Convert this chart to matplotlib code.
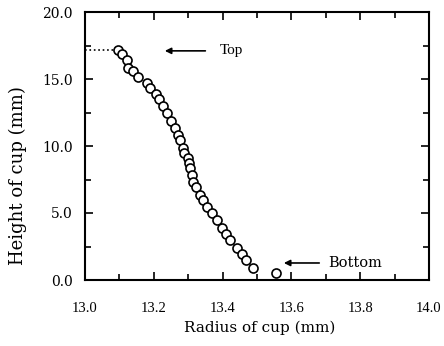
import matplotlib
matplotlib.use("Agg")
import matplotlib.pyplot as plt
from matplotlib.ticker import MultipleLocator

# Cup profile
radius = [13.097, 13.107, 13.121, 13.126, 13.140, 13.155, 13.179, 13.189, 13.206,
          13.215, 13.228, 13.238, 13.251, 13.262, 13.271, 13.276, 13.286, 13.288,
          13.300, 13.303, 13.305, 13.310, 13.315, 13.323, 13.334, 13.344, 13.354,
          13.368, 13.383, 13.397, 13.410, 13.422, 13.441, 13.456, 13.468, 13.489,
          13.555]
height = [17.16, 16.84, 16.42, 15.80, 15.60, 15.17, 14.68, 14.31, 13.88,
          13.51, 13.01, 12.44, 11.90, 11.32, 10.82, 10.45, 9.83, 9.46,
          9.08, 8.70, 8.34, 7.84, 7.34, 6.96, 6.34, 5.97, 5.47,
          4.98, 4.48, 3.90, 3.41, 2.99, 2.41, 1.92, 1.49, 0.92,
          0.52]

plt.rcParams['font.family'] = ['Liberation Serif', 'DejaVu Serif']
wide = ['DejaVu Serif']   # the scan's labels are loosely spaced

fig = plt.figure(figsize=(4.44, 3.46), dpi=100)
ax = fig.add_axes([85/444, 1 - 280/346, 344/444, 268/346])

ax.plot(radius, height, 'o', markerfacecolor='white', markeredgecolor='black',
        markersize=6.5, markeredgewidth=1.2, linestyle='none', zorder=3)

# dotted guide to the top point
ax.plot([13.0, radius[0]], [height[0], height[0]], linestyle=':', color='black', lw=1.2)

ax.annotate("", xy=(13.224, 17.1), xytext=(13.358, 17.1),
            arrowprops=dict(arrowstyle='-|>', color='black', lw=1.2, mutation_scale=9))
ax.text(13.393, 17.1, "Top", fontsize=11, va='center', ha='left')
ax.annotate("", xy=(13.570, 1.27), xytext=(13.689, 1.27),
            arrowprops=dict(arrowstyle='-|>', color='black', lw=1.2, mutation_scale=9))
ax.text(13.706, 1.27, "Bottom", fontsize=10.5, va='center', ha='left', family=wide)

ax.set_xlim(13.0, 14.0)
ax.set_ylim(0, 20)
ax.xaxis.set_major_locator(MultipleLocator(0.2))
ax.xaxis.set_minor_locator(MultipleLocator(0.1))
ax.yaxis.set_major_locator(MultipleLocator(5))
ax.yaxis.set_minor_locator(MultipleLocator(2.5))
ax.xaxis.set_major_formatter(lambda v, p: f"{v:.1f}")
ax.yaxis.set_major_formatter(lambda v, p: f"{v:.1f}")
ax.tick_params(which='both', direction='in', top=True, right=True, width=1.2)
ax.tick_params(which='major', length=6)
ax.tick_params(which='minor', length=4)
ax.tick_params(axis='x', which='major', pad=16, labelsize=10.5)
ax.tick_params(axis='y', which='major', pad=9, labelsize=10)
for lab in ax.get_yticklabels():
    lab.set_family(wide)
for s in ax.spines.values():
    s.set_linewidth(1.5)

ax.set_xlabel("Radius of cup (mm)", fontsize=11, family=wide, va='center', ha='center')
ax.set_ylabel("Height of cup (mm)", fontsize=13, family=wide, va='center', ha='center')
ax.xaxis.set_label_coords(0.509, -0.179)
ax.yaxis.set_label_coords(-0.195, 0.39)

fig.savefig("out.png", dpi=100)
